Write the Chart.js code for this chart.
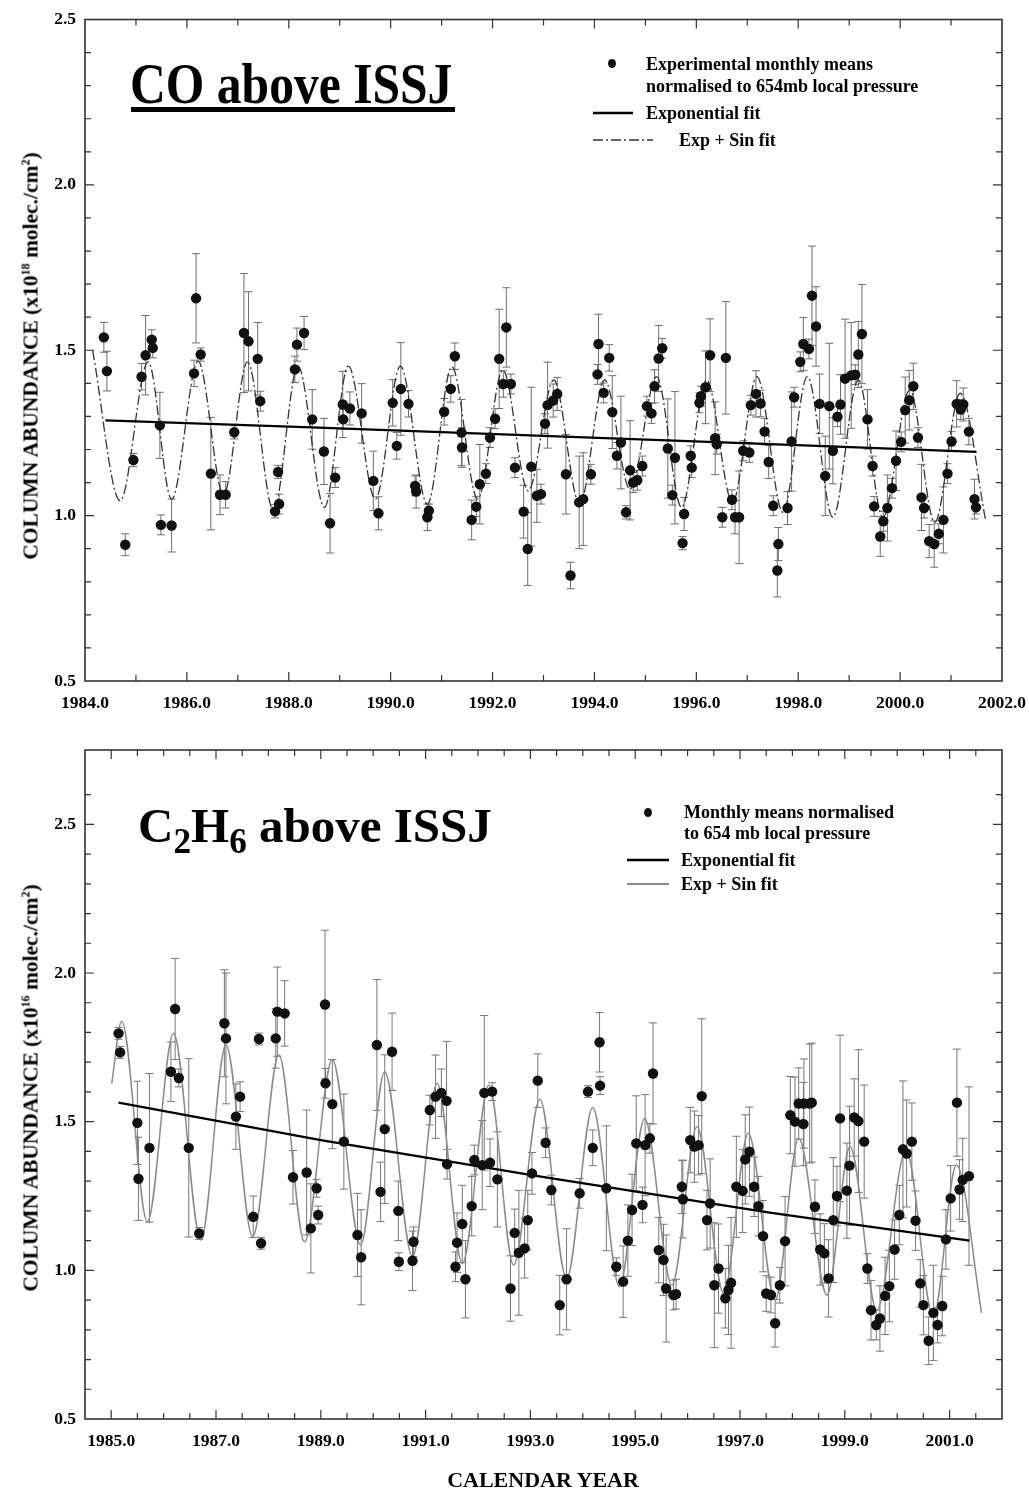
<!DOCTYPE html>
<html>
<head>
<meta charset="utf-8">
<script src="https://cdn.jsdelivr.net/npm/chart.js@4.4.1/dist/chart.umd.min.js"></script>
<style>
  html, body { margin: 0; padding: 0; background: #fff; overflow: hidden; }
  #page { position: relative; width: 1029px; height: 1492px; font-family: "Liberation Serif", "Times New Roman", serif; font-weight: bold; color: #000; }
  .box { position: absolute; left: 0; }
  .t { position: absolute; white-space: nowrap; line-height: 22px; }
  .lg { font-size: 18px; }
  .ytitle { position: absolute; font-size: 21.5px; white-space: nowrap; transform: translate(-50%, -50%) rotate(-90deg); }
  .ytitle sup { font-size: 12px; vertical-align: 8px; }
  .dot { position: absolute; width: 8px; height: 9px; border-radius: 50%; background: #111; }
  svg { position: absolute; overflow: visible; }
</style>
</head>
<body>
<div id="page">
  <div class="box" style="top:0;width:1029px;height:720px"><canvas id="coChart" width="1029" height="720"></canvas></div>
  <div class="box" style="top:720px;width:1029px;height:772px"><canvas id="c2Chart" width="1029" height="772"></canvas></div>

  <!-- CO panel texts -->
  <div class="t" style="left:130px;top:55px;font-size:57px;line-height:57px;transform:scaleX(0.87);transform-origin:left top">CO above ISSJ</div>
  <div style="position:absolute;left:131px;top:107px;width:324px;height:5px;background:#000"></div>
  <div class="dot" style="left:608px;top:59px"></div>
  <div class="t lg" style="left:646px;top:53px">Experimental monthly means</div>
  <div class="t lg" style="left:646px;top:75px">normalised to 654mb local pressure</div>
  <svg style="left:0;top:0" width="1" height="1"><line x1="593" y1="113" x2="633" y2="113" stroke="#000" stroke-width="2.5"/></svg>
  <div class="t lg" style="left:646px;top:102px">Exponential fit</div>
  <svg style="left:0;top:0" width="1" height="1"><line x1="593" y1="140" x2="653" y2="140" stroke="#333" stroke-width="1.5" stroke-dasharray="10 3 2 3"/></svg>
  <div class="t lg" style="left:679px;top:129px">Exp + Sin fit</div>
  <div class="ytitle" style="left:31px;top:356px">COLUMN ABUNDANCE (x10<sup>18</sup> molec./cm<sup>2</sup>)</div>

  <!-- C2H6 panel texts -->
  <div class="t" style="left:138px;top:801px;font-size:49px;line-height:49px">C<span style="font-size:0.72em;position:relative;top:0.3em">2</span>H<span style="font-size:0.72em;position:relative;top:0.3em">6</span> above ISSJ</div>
  <div class="dot" style="left:644px;top:808px"></div>
  <div class="t lg" style="left:684px;top:801px">Monthly means normalised</div>
  <div class="t lg" style="left:684px;top:822px">to 654 mb local pressure</div>
  <svg style="left:0;top:0" width="1" height="1"><line x1="627" y1="860" x2="669" y2="860" stroke="#000" stroke-width="2.5"/></svg>
  <div class="t lg" style="left:681px;top:849px">Exponential fit</div>
  <svg style="left:0;top:0" width="1" height="1"><line x1="627" y1="884" x2="669" y2="884" stroke="#8a8a8a" stroke-width="2"/></svg>
  <div class="t lg" style="left:681px;top:873px">Exp + Sin fit</div>
  <div class="ytitle" style="left:31px;top:1088px">COLUMN ABUNDANCE (x10<sup>16</sup> molec./cm<sup>2</sup>)</div>
  <div class="t" style="left:543px;top:1469px;font-size:22px;transform:translateX(-50%)">CALENDAR YEAR</div>
</div>

<script>
// ---- CO above ISSJ : monthly means (year, column, error) ----
const coYears = [
  1984.37,1984.43,1984.79,1984.95,1985.11,1985.19,1985.31,1985.33,1985.47,1985.49,
  1985.70,1986.14,1986.18,1986.27,1986.47,1986.65,1986.76,1986.93,1987.12,1987.21,
  1987.39,1987.44,1987.73,1987.81,1987.79,1988.12,1988.16,1988.30,1988.46,1988.69,
  1988.81,1988.91,1989.06,1989.07,1989.20,1989.43,1989.66,1989.76,1990.04,1990.12,
  1990.20,1990.35,1990.48,1990.50,1990.72,1990.75,1991.05,1991.18,1991.26,1991.39,
  1991.40,1991.59,1991.68,1991.75,1991.87,1991.95,1992.05,1992.13,1992.21,1992.27,
  1992.36,1992.44,1992.61,1992.69,1992.76,1992.87,1992.95,1993.03,1993.08,1993.19,
  1993.27,1993.44,1993.53,1993.70,1993.78,1993.93,1994.06,1994.08,1994.18,1994.29,
  1994.35,1994.44,1994.52,1994.62,1994.70,1994.76,1994.84,1994.94,1995.03,1995.12,
  1995.18,1995.26,1995.33,1995.44,1995.53,1995.58,1995.73,1995.76,1995.89,1995.91,
  1996.06,1996.09,1996.18,1996.27,1996.37,1996.40,1996.51,1996.58,1996.70,1996.76,
  1996.84,1996.92,1997.04,1997.07,1997.17,1997.26,1997.34,1997.42,1997.51,1997.61,
  1997.59,1997.79,1997.87,1997.92,1998.04,1998.10,1998.21,1998.27,1998.35,1998.42,
  1998.53,1998.61,1998.68,1998.77,1998.83,1998.92,1999.04,1999.12,1999.18,1999.25,
  1999.36,1999.46,1999.49,1999.61,1999.67,1999.75,1999.84,1999.92,2000.02,2000.10,
  2000.18,2000.26,2000.35,2000.42,2000.47,2000.57,2000.67,2000.76,2000.85,2000.93,
  2001.01,2001.11,2001.19,2001.24,2001.35,2001.46,2001.49
];
const coValues = [
  1.539,1.437,0.912,1.168,1.420,1.485,1.532,1.507,1.273,0.972,
  0.970,1.430,1.657,1.487,1.127,1.063,1.063,1.252,1.552,1.527,
  1.474,1.346,1.013,1.035,1.132,1.442,1.517,1.552,1.291,1.194,
  0.977,1.115,1.336,1.291,1.324,1.309,1.105,1.007,1.341,1.211,
  1.383,1.338,1.090,1.073,0.995,1.015,1.314,1.383,1.482,1.251,
  1.206,0.987,1.027,1.095,1.127,1.236,1.293,1.474,1.398,1.569,
  1.398,1.145,1.012,0.899,1.148,1.060,1.065,1.278,1.334,1.348,
  1.368,1.125,0.819,1.040,1.050,1.125,1.427,1.519,1.371,1.477,
  1.313,1.181,1.221,1.010,1.137,1.100,1.107,1.150,1.331,1.309,
  1.391,1.475,1.506,1.203,1.062,1.175,0.917,1.005,1.181,1.145,
  1.341,1.361,1.388,1.485,1.234,1.216,0.995,1.477,1.048,0.995,
  0.995,1.196,1.191,1.334,1.368,1.339,1.254,1.162,1.030,0.914,
  0.834,1.023,1.224,1.358,1.465,1.519,1.504,1.665,1.572,1.338,
  1.120,1.331,1.196,1.299,1.336,1.414,1.424,1.426,1.487,1.549,
  1.291,1.150,1.028,0.937,0.983,1.023,1.083,1.166,1.223,1.319,
  1.349,1.391,1.236,1.055,1.023,0.923,0.914,0.945,0.987,1.127,
  1.224,1.338,1.321,1.336,1.254,1.050,1.025
];
const coErrors = [
  0.045,0.06,0.033,0.02,0.04,0.12,0.03,0.03,0.10,0.03,
  0.08,0.04,0.135,0.02,0.17,0.06,0.04,0.02,0.18,0.15,
  0.11,0.03,0.02,0.03,0.02,0.04,0.05,0.05,0.09,0.10,
  0.09,0.03,0.10,0.03,0.05,0.09,0.09,0.05,0.07,0.04,
  0.14,0.04,0.03,0.05,0.04,0.02,0.04,0.04,0.04,0.10,
  0.06,0.06,0.03,0.12,0.03,0.03,0.03,0.15,0.04,0.12,
  0.03,0.03,0.08,0.11,0.24,0.08,0.03,0.03,0.13,0.05,
  0.05,0.12,0.04,0.14,0.14,0.03,0.03,0.09,0.03,0.04,
  0.11,0.04,0.14,0.02,0.15,0.03,0.03,0.03,0.03,0.03,
  0.05,0.10,0.03,0.15,0.03,0.20,0.02,0.05,0.03,0.03,
  0.03,0.03,0.11,0.11,0.11,0.03,0.03,0.17,0.03,0.05,
  0.14,0.03,0.03,0.03,0.07,0.04,0.04,0.05,0.03,0.05,
  0.08,0.05,0.15,0.03,0.03,0.08,0.03,0.15,0.12,0.09,
  0.12,0.19,0.10,0.03,0.09,0.18,0.16,0.03,0.10,0.15,
  0.09,0.03,0.03,0.06,0.03,0.10,0.03,0.09,0.03,0.10,
  0.09,0.07,0.03,0.10,0.03,0.05,0.07,0.03,0.10,0.03,
  0.03,0.07,0.03,0.05,0.04,0.06,0.02
];
// CO fits
const coExpYears = [1984.40, 1988.45, 1993.00, 1997.45, 2001.50];
const coExpValues = [1.288, 1.267, 1.241, 1.216, 1.193];
const coSinYears = [
  1984.15,1984.69,1985.24,1985.70,1986.22,1986.72,1987.19,1987.70,1988.18,1988.70,
  1989.17,1989.70,1990.19,1990.72,1991.20,1991.71,1992.20,1992.70,1993.20,1993.71,
  1994.20,1994.70,1995.22,1995.71,1996.20,1996.71,1997.19,1997.70,1998.18,1998.68,
  1999.18,1999.66,2000.19,2000.68,2001.18,2001.68
];
const coSinValues = [
  1.500,1.045,1.465,1.050,1.467,1.063,1.465,1.015,1.452,1.025,
  1.452,1.050,1.452,1.035,1.450,1.050,1.440,1.075,1.410,1.035,
  1.410,1.080,1.420,1.025,1.410,1.040,1.420,1.010,1.420,0.995,
  1.410,0.995,1.380,0.980,1.370,0.985
];

// ---- C2H6 above ISSJ : monthly means ----
const c2Years = [
  1985.14,1985.17,1985.50,1985.52,1985.73,1986.14,1986.22,1986.29,1986.48,1986.68,
  1987.16,1987.19,1987.38,1987.46,1987.71,1987.86,1987.82,1988.14,1988.17,1988.31,
  1988.47,1988.73,1988.81,1988.92,1988.95,1989.08,1989.09,1989.22,1989.44,1989.70,
  1989.77,1990.07,1990.14,1990.22,1990.36,1990.48,1990.49,1990.75,1990.77,1991.08,
  1991.19,1991.30,1991.40,1991.41,1991.57,1991.60,1991.70,1991.76,1991.88,1991.93,
  1992.08,1992.12,1992.23,1992.27,1992.37,1992.62,1992.70,1992.78,1992.89,1992.95,
  1993.03,1993.14,1993.29,1993.40,1993.56,1993.69,1993.94,1994.10,1994.19,1994.32,
  1994.33,1994.45,1994.64,1994.77,1994.86,1994.94,1995.02,1995.14,1995.19,1995.28,
  1995.34,1995.45,1995.54,1995.59,1995.73,1995.78,1995.89,1995.91,1996.05,1996.13,
  1996.21,1996.27,1996.37,1996.43,1996.51,1996.59,1996.72,1996.78,1996.83,1996.93,
  1997.05,1997.10,1997.18,1997.27,1997.35,1997.44,1997.50,1997.59,1997.67,1997.76,
  1997.86,1997.96,1998.05,1998.12,1998.21,1998.22,1998.33,1998.37,1998.43,1998.53,
  1998.61,1998.69,1998.78,1998.85,1998.91,1999.04,1999.09,1999.18,1999.26,1999.37,
  1999.43,1999.50,1999.60,1999.67,1999.77,1999.85,1999.95,2000.04,2000.11,2000.18,
  2000.28,2000.35,2000.44,2000.50,2000.60,2000.69,2000.77,2000.86,2000.93,2001.02,
  2001.14,2001.19,2001.25,2001.37
];
const c2Values = [
  1.797,1.733,1.496,1.308,1.412,1.668,1.879,1.647,1.412,1.124,
  1.831,1.780,1.517,1.584,1.180,1.091,1.778,1.780,1.870,1.864,
  1.313,1.329,1.141,1.276,1.186,1.894,1.629,1.559,1.433,1.119,
  1.044,1.758,1.264,1.475,1.735,1.200,1.029,1.032,1.096,1.539,
  1.584,1.597,1.570,1.357,1.012,1.093,1.156,0.970,1.216,1.371,
  1.354,1.597,1.362,1.601,1.306,0.939,1.126,1.059,1.074,1.169,
  1.326,1.638,1.429,1.270,0.883,0.970,1.259,1.601,1.412,1.767,
  1.621,1.276,1.012,0.962,1.100,1.203,1.427,1.220,1.421,1.444,
  1.662,1.068,1.035,0.939,0.917,0.920,1.281,1.239,1.438,1.416,
  1.421,1.586,1.169,1.225,0.950,1.006,0.906,0.934,0.958,1.281,
  1.267,1.373,1.399,1.281,1.216,1.115,0.922,0.917,0.822,0.950,
  1.098,1.522,1.500,1.561,1.492,1.561,1.561,1.564,1.214,1.070,
  1.057,0.973,1.169,1.250,1.511,1.268,1.352,1.514,1.502,1.433,
  1.006,0.866,0.816,0.838,0.914,0.947,1.070,1.186,1.407,1.393,
  1.433,1.167,0.956,0.883,0.763,0.857,0.816,0.880,1.104,1.242,
  1.564,1.272,1.304,1.317
];
const c2Errors = [
  0.02,0.02,0.14,0.14,0.25,0.10,0.17,0.03,0.30,0.02,
  0.18,0.22,0.11,0.05,0.07,0.02,0.02,0.10,0.15,0.11,
  0.09,0.21,0.15,0.03,0.03,0.25,0.05,0.15,0.16,0.14,
  0.16,0.22,0.10,0.25,0.13,0.10,0.03,0.10,0.05,0.05,
  0.14,0.08,0.20,0.05,0.05,0.10,0.13,0.13,0.10,0.05,
  0.15,0.26,0.08,0.03,0.16,0.11,0.08,0.21,0.10,0.10,
  0.07,0.09,0.05,0.05,0.10,0.17,0.05,0.02,0.06,0.10,
  0.03,0.21,0.03,0.12,0.12,0.12,0.16,0.06,0.17,0.05,
  0.17,0.11,0.12,0.18,0.05,0.05,0.09,0.13,0.11,0.12,
  0.10,0.26,0.10,0.15,0.21,0.15,0.10,0.15,0.22,0.17,
  0.14,0.15,0.15,0.10,0.10,0.12,0.06,0.06,0.08,0.06,
  0.15,0.13,0.15,0.12,0.14,0.15,0.20,0.20,0.09,0.12,
  0.10,0.13,0.21,0.10,0.28,0.16,0.20,0.13,0.24,0.19,
  0.05,0.10,0.05,0.11,0.13,0.12,0.10,0.10,0.23,0.18,
  0.13,0.10,0.08,0.10,0.08,0.16,0.06,0.10,0.10,0.11,
  0.18,0.10,0.14,0.30
];
const c2ExpYears = [1985.14, 1989.00, 1993.20, 1997.60, 2001.38];
const c2ExpValues = [1.564, 1.438, 1.315, 1.193, 1.100];
const c2SinYears = [
  1985.01,1985.20,1985.69,1986.19,1986.71,1987.19,1987.70,1988.20,1988.69,1989.22,
  1989.76,1990.22,1990.75,1991.22,1991.70,1992.21,1992.68,1993.18,1993.69,1994.19,
  1994.70,1995.18,1995.70,1996.18,1996.69,1997.16,1997.67,1998.12,1998.66,1999.10,
  1999.61,2000.17,2000.69,2001.13,2001.61
];
const c2SinValues = [
  1.629,1.838,1.163,1.797,1.102,1.758,1.113,1.724,1.096,1.709,
  1.085,1.668,1.046,1.629,1.023,1.623,1.018,1.575,0.973,1.548,
  0.945,1.511,0.950,1.483,0.922,1.461,0.900,1.444,0.917,1.416,
  0.866,1.404,0.844,1.354,0.857
];

const serif = '"Liberation Serif", "Times New Roman", serif';
const toPoints = (xs, ys) => xs.map((x, i) => ({ x, y: ys[i] }));
const onGrid = (v, base, every) => {
  const r = (v - base) / every;
  return Math.abs(r - Math.round(r)) < 1e-6;
};

// error bars from dataset 0, drawn under the marks
const errorBars = {
  id: 'errorBars',
  beforeDatasetsDraw(chart, args, opts) {
    const errs = opts.errors;
    if (!errs) return;
    const { ctx, scales: { x, y } } = chart;
    const pts = chart.data.datasets[0].data;
    ctx.save();
    ctx.strokeStyle = opts.color;
    ctx.lineWidth = opts.width;
    ctx.beginPath();
    pts.forEach((p, i) => {
      const px = x.getPixelForValue(p.x);
      const top = y.getPixelForValue(p.y + errs[i]);
      const bot = y.getPixelForValue(p.y - errs[i]);
      ctx.moveTo(px, top); ctx.lineTo(px, bot);
      ctx.moveTo(px - 4, top); ctx.lineTo(px + 4, top);
      ctx.moveTo(px - 4, bot); ctx.lineTo(px + 4, bot);
    });
    ctx.stroke();
    ctx.restore();
  },
};

// box frame with inward ticks on all four sides
const frameTicks = {
  id: 'frameTicks',
  afterDraw(chart) {
    const { ctx, chartArea: a, scales: { x, y } } = chart;
    ctx.save();
    ctx.strokeStyle = '#333';
    ctx.lineWidth = 1.6;
    ctx.strokeRect(a.left, a.top, a.right - a.left, a.bottom - a.top);
    ctx.lineWidth = 1.2;
    ctx.beginPath();
    x.ticks.forEach((t) => {
      const px = x.getPixelForValue(t.value);
      if (px <= a.left + 1 || px >= a.right - 1) return;
      const len = t.label ? 9 : 6;
      ctx.moveTo(px, a.bottom); ctx.lineTo(px, a.bottom - len);
      ctx.moveTo(px, a.top); ctx.lineTo(px, a.top + len);
    });
    y.ticks.forEach((t) => {
      const py = y.getPixelForValue(t.value);
      if (py <= a.top + 1 || py >= a.bottom - 1) return;
      const len = t.label ? 9 : 6;
      ctx.moveTo(a.left, py); ctx.lineTo(a.left + len, py);
      ctx.moveTo(a.right, py); ctx.lineTo(a.right - len, py);
    });
    ctx.stroke();
    ctx.restore();
  },
};

function makePanel(id, p) {
  return new Chart(document.getElementById(id), {
    type: 'scatter',
    data: {
      datasets: [
        {
          label: 'Monthly means',
          data: toPoints(p.years, p.values),
          pointRadius: 5.2,
          pointHoverRadius: 5.2,
          backgroundColor: '#111',
          borderColor: '#111',
          borderWidth: 0,
          order: 0,
        },
        {
          label: 'Exponential fit',
          data: toPoints(p.expYears, p.expValues),
          showLine: true,
          pointRadius: 0,
          borderColor: '#000',
          borderWidth: 2.2,
          order: 1,
        },
        {
          label: 'Exp + Sin fit',
          data: toPoints(p.sinYears, p.sinValues),
          showLine: true,
          pointRadius: 0,
          borderColor: p.sinColor,
          borderWidth: p.sinWidth,
          borderDash: p.sinDash,
          cubicInterpolationMode: 'monotone',
          order: 2,
        },
      ],
    },
    options: {
      responsive: false,
      animation: false,
      events: [],
      layout: { padding: { top: p.padTop, right: 27, left: 0, bottom: 0 } },
      plugins: {
        legend: { display: false },
        tooltip: { enabled: false },
        errorBars: { errors: p.errors, color: p.errColor, width: 1 },
      },
      scales: {
        x: {
          type: 'linear',
          min: p.xMin,
          max: p.xMax,
          afterFit(s) {
            s.height = p.xHeight;
            s.paddingLeft = 0;
            s.paddingRight = 0;
          },
          grid: { display: false, drawTicks: false },
          border: { display: false },
          ticks: {
            stepSize: p.xStep,
            autoSkip: false,
            maxRotation: 0,
            padding: 12,
            color: '#000',
            font: { family: serif, size: 17.5, weight: 'bold' },
            callback: (v) => (onGrid(v, p.xLabelBase, 2) ? v.toFixed(1) : ''),
          },
        },
        y: {
          min: 0.5,
          max: p.yMax,
          afterFit(s) { s.width = 85; },
          grid: { display: false, drawTicks: false },
          border: { display: false },
          ticks: {
            stepSize: 0.1,
            autoSkip: false,
            padding: 9,
            color: '#000',
            font: { family: serif, size: 17.5, weight: 'bold' },
            callback: (v) => (onGrid(v, 0.5, 0.5) ? v.toFixed(1) : ''),
          },
        },
      },
    },
    plugins: [errorBars, frameTicks],
  });
}

makePanel('coChart', {
  years: coYears, values: coValues, errors: coErrors,
  expYears: coExpYears, expValues: coExpValues,
  sinYears: coSinYears, sinValues: coSinValues,
  sinColor: '#333', sinWidth: 1.3, sinDash: [10, 3, 2, 3],
  errColor: '#6e6e6e',
  xMin: 1984, xMax: 2002, xStep: 1, xLabelBase: 1984,
  yMax: 2.5, padTop: 17, xHeight: 39,
});

makePanel('c2Chart', {
  years: c2Years, values: c2Values, errors: c2Errors,
  expYears: c2ExpYears, expValues: c2ExpValues,
  sinYears: c2SinYears, sinValues: c2SinValues,
  sinColor: '#8a8a8a', sinWidth: 1.5, sinDash: [],
  errColor: '#777',
  xMin: 1984.5, xMax: 2002, xStep: 0.5, xLabelBase: 1985,
  yMax: 2.75, padTop: 30, xHeight: 73,
});
</script>
</body>
</html>
